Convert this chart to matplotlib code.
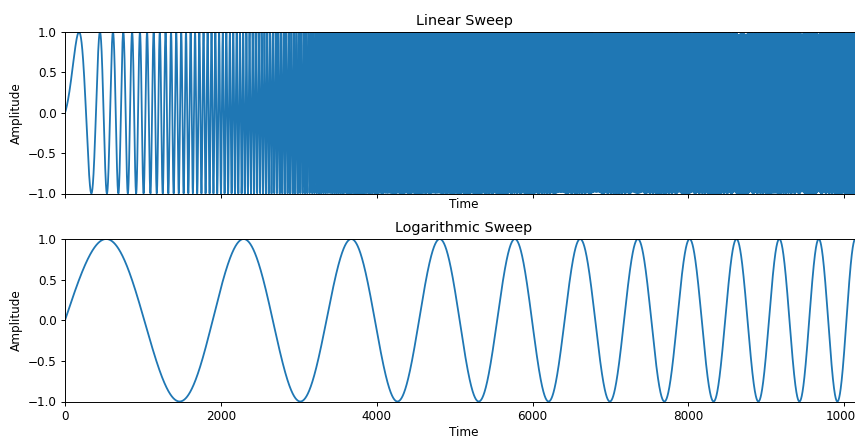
import numpy as np
import matplotlib
matplotlib.use("Agg")
import matplotlib.pyplot as plt

# Sweep parameters (time in samples, frequency in cycles/sample)
n_samples = 10240
sample_rate = 44100.0
linear_freqs_hz = [20.0, 4720.0]      # start, end frequency of the linear sweep
log_freqs_hz = [20.0, 99.0]           # start, end frequency of the logarithmic sweep
titles = ["Linear Sweep", "Logarithmic Sweep"]
x_label = "Time"
y_label = "Amplitude"
x_ticks = [0, 2000, 4000, 6000, 8000, 10000]
y_ticks = [-1.0, -0.5, 0.0, 0.5, 1.0]

t = np.arange(n_samples)
T = n_samples

f0, f1 = linear_freqs_hz[0] / sample_rate, linear_freqs_hz[1] / sample_rate
phase_lin = 2 * np.pi * (f0 * t + 0.5 * (f1 - f0) / T * t ** 2)
lin = np.sin(phase_lin)

g0, g1 = log_freqs_hz[0] / sample_rate, log_freqs_hz[1] / sample_rate
k = np.log(g1 / g0)
phase_log = 2 * np.pi * g0 * T / k * (np.exp(k * t / T) - 1)
logs = np.sin(phase_log)

s = 0.866
plt.rcParams.update({
    "font.size": 10 * s,
    "axes.titlesize": 12 * s,
    "axes.labelsize": 10 * s,
    "xtick.labelsize": 10 * s,
    "ytick.labelsize": 10 * s,
    "axes.linewidth": 0.8 * s,
    "xtick.major.size": 3.5 * s,
    "ytick.major.size": 3.5 * s,
    "xtick.major.width": 0.8 * s,
    "ytick.major.width": 0.8 * s,
    "xtick.major.pad": 3.5 * s,
    "ytick.major.pad": 3.5 * s,
    "axes.titlepad": 6 * s,
    "axes.labelpad": 4 * s,
})

fig = plt.figure(figsize=(8.55, 4.38), dpi=100)
W, H = 855, 438
left, right = 65, 863
ax1 = fig.add_axes([left / W, (H - 193.5) / H, (right - left) / W, 161.5 / H])
ax2 = fig.add_axes([left / W, (H - 401.5) / H, (right - left) / W, 162.5 / H], sharex=ax1)

ax1.plot(t, lin, color="C0", lw=1.5 * s)
ax2.plot(t, logs, color="C0", lw=1.5 * s)

for ax, title in zip([ax1, ax2], titles):
    ax.set_title(title)
    ax.set_ylabel(y_label)
    ax.set_ylim(-1, 1)
    ax.set_yticks(y_ticks)
ax1.set_xlabel(x_label, labelpad=0.3)
ax2.set_xlabel(x_label, labelpad=2.0)
ax1.set_xlim(0, n_samples)
ax1.set_xticks(x_ticks)
ax1.tick_params(labelbottom=False)

fig.savefig("out.png", dpi=100)
